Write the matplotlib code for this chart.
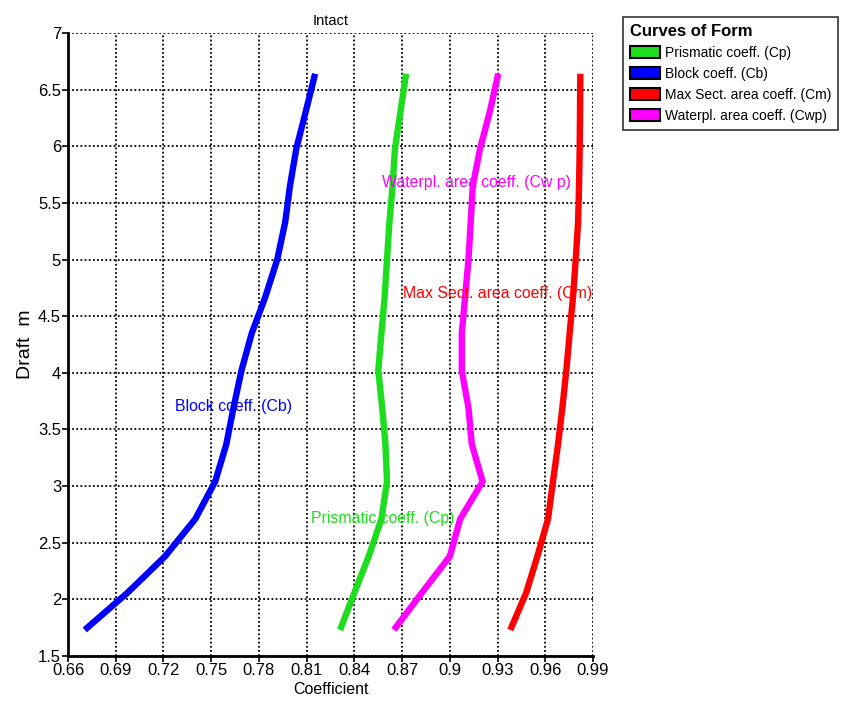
import matplotlib
matplotlib.use("Agg")
import matplotlib.pyplot as plt
from matplotlib.patches import Patch

plt.rcParams['font.family'] = ['Liberation Sans', 'DejaVu Sans']

# drafts (m) at which the coefficients were computed
draft = [1.73, 2.06, 2.38, 2.71, 3.04, 3.37, 3.69, 4.02,
         4.35, 4.67, 5.00, 5.33, 5.65, 5.98, 6.31, 6.64]

cp = [0.831, 0.840, 0.849, 0.857, 0.8605, 0.8595, 0.8575, 0.855,
      0.857, 0.859, 0.8605, 0.862, 0.864, 0.8655, 0.869, 0.8725]
cb = [0.6705, 0.6975, 0.721, 0.740, 0.7525, 0.7595, 0.764, 0.769,
      0.7755, 0.784, 0.7915, 0.7965, 0.7995, 0.8035, 0.8095, 0.8153]
cm = [0.938, 0.948, 0.955, 0.9617, 0.9648, 0.968, 0.9707, 0.9732,
      0.9753, 0.9774, 0.9791, 0.9806, 0.9812, 0.9816, 0.9818, 0.982]
cwp = [0.8648, 0.8825, 0.900, 0.9065, 0.9206, 0.9138, 0.9117, 0.9075,
       0.9075, 0.9096, 0.9117, 0.9131, 0.9144, 0.919, 0.9252, 0.9304]

names = ['Prismatic coeff. (Cp)', 'Block coeff. (Cb)',
         'Max Sect. area coeff. (Cm)', 'Waterpl. area coeff. (Cwp)']
colors = ['#1EDC1E', '#0000FF', '#FF0000', '#FF00FF']
series = [cp, cb, cm, cwp]

# in-plot labels: text, x, y, horizontal alignment
curve_labels = [('Prismatic coeff. (Cp)', 0.858, 2.715, 'center'),
                ('Block coeff. (Cb)', 0.764, 3.705, 'center'),
                ('Max Sect. area coeff. (Cm)', 0.9895, 4.70, 'right'),
                ('Waterpl. area coeff. (Cw p)', 0.9166, 5.678, 'center')]

x_ticks = [0.66, 0.69, 0.72, 0.75, 0.78, 0.81, 0.84, 0.87, 0.9, 0.93, 0.96, 0.99]
x_tick_labels = ['0.66', '0.69', '0.72', '0.75', '0.78', '0.81', '0.84',
                 '0.87', '0.9', '0.93', '0.96', '0.99']
y_ticks = [1.5, 2, 2.5, 3, 3.5, 4, 4.5, 5, 5.5, 6, 6.5, 7]
y_tick_labels = ['1.5', '2', '2.5', '3', '3.5', '4', '4.5', '5', '5.5', '6', '6.5', '7']

fig = plt.figure(figsize=(8.43, 7.05), dpi=100)
ax = fig.add_axes([0.0807, 0.0695, 0.6228, 0.8837])

for s, c in zip(series, colors):
    ax.plot(s, draft, color=c, lw=4.6, solid_capstyle='butt', zorder=3)

for (txt, x, y, ha), c in zip(curve_labels, colors):
    ax.text(x, y, txt, color=c, fontsize=11.4, ha=ha, va='center', zorder=4)

ax.set_xlim(0.66, 0.99)
ax.set_ylim(1.5, 7)
ax.set_xticks(x_ticks)
ax.set_xticklabels(x_tick_labels, fontsize=12)
ax.set_yticks(y_ticks)
ax.set_yticklabels(y_tick_labels, fontsize=12)
ax.tick_params(length=4, width=1.2, pad=1)

ax.grid(True, color='black', linestyle=(0, (1, 1.3)), lw=1.3, zorder=1)
ax.set_axisbelow(True)
for side in ['top', 'right']:
    ax.spines[side].set_visible(False)
for side in ['left', 'bottom']:
    ax.spines[side].set_linewidth(2)

ax.set_title('Intact', fontsize=10.5, pad=6)
ax.set_xlabel('Coefficient', fontsize=11.5, labelpad=3)
ax.set_ylabel('Draft  m', fontsize=14, labelpad=3)

handles = [Patch(facecolor=c, edgecolor='black', lw=1.5) for c in colors]
leg = fig.legend(handles, names, loc='upper left', bbox_to_anchor=(0.739, 0.976),
                 title='Curves of Form', fontsize=10, alignment='left',
                 title_fontproperties={'weight': 'bold', 'size': 12},
                 frameon=True, fancybox=False, shadow=False,
                 handlelength=2.15, handleheight=1.0, handletextpad=0.35,
                 labelspacing=0.5, borderpad=0.5, borderaxespad=0)
leg.get_frame().set_edgecolor('black')
leg.get_frame().set_linewidth(1.2)

fig.savefig('out.png', dpi=100)
